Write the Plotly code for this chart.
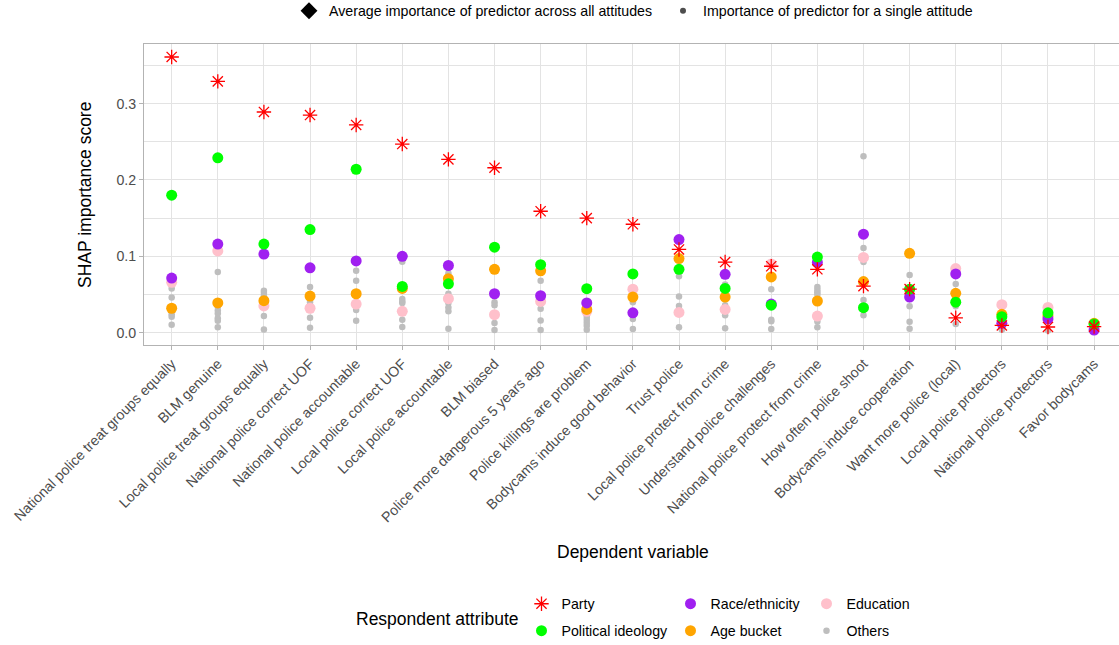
import plotly.graph_objects as go

# Dependent variables (attitudes), in plotting order
attitudes = [
    "National police treat groups equally", "BLM genuine",
    "Local police treat groups equally", "National police correct UOF",
    "National police accountable", "Local police correct UOF",
    "Local police accountable", "BLM biased",
    "Police more dangerous 5 years ago", "Police killings are problem",
    "Bodycams induce good behavior", "Trust police",
    "Local police protect from crime", "Understand police challenges",
    "National police protect from crime", "How often police shoot",
    "Bodycams induce cooperation", "Want more police (local)",
    "Local police protectors", "National police protectors", "Favor bodycams",
]

# SHAP importance of each respondent attribute, per attitude
party = [0.361, 0.329, 0.289, 0.285, 0.272, 0.247, 0.227, 0.216, 0.159, 0.150,
         0.142, 0.109, 0.0925, 0.087, 0.083, 0.061, 0.057, 0.0195, 0.0095, 0.0075, 0.008]
ideology = [0.180, 0.229, 0.116, 0.135, 0.214, 0.0606, 0.064, 0.112, 0.089, 0.0576,
            0.077, 0.083, 0.058, 0.036, 0.099, 0.0327, 0.057, 0.040, 0.021, 0.026, 0.0114]
race = [0.0716, 0.116, 0.103, 0.085, 0.094, 0.100, 0.088, 0.051, 0.0484, 0.039,
        0.026, 0.122, 0.0764, 0.0375, 0.092, 0.129, 0.0467, 0.077, 0.0123, 0.018, 0.0035]
age = [0.032, 0.039, 0.042, 0.048, 0.051, 0.058, 0.0707, 0.083, 0.081, 0.0305,
       0.0467, 0.097, 0.0467, 0.073, 0.0415, 0.067, 0.104, 0.0515, 0.024, 0.022, 0.0123]
education = [0.066, 0.107, 0.035, 0.032, 0.0375, 0.028, 0.0445, 0.0236, 0.041, 0.028,
             0.057, 0.0266, 0.0305, 0.090, 0.0218, 0.0986, 0.055, 0.084, 0.0367, 0.033, 0.006]
others = [
    [0.058, 0.046, 0.024, 0.021, 0.0105],
    [0.0794, 0.034, 0.029, 0.025, 0.019, 0.0157, 0.007],
    [0.055, 0.052, 0.048, 0.022, 0.0043],
    [0.060, 0.043, 0.040, 0.0196, 0.0065],
    [0.081, 0.068, 0.0297, 0.0157],
    [0.093, 0.044, 0.041, 0.039, 0.017, 0.0074],
    [0.078, 0.051, 0.039, 0.033, 0.028, 0.0052],
    [0.040, 0.036, 0.0127, 0.0035],
    [0.068, 0.0314, 0.016, 0.0035],
    [0.026, 0.021, 0.017, 0.013, 0.009, 0.004],
    [0.040, 0.018, 0.0048],
    [0.074, 0.0475, 0.035, 0.007],
    [0.063, 0.036, 0.0227, 0.0057],
    [0.057, 0.017, 0.015, 0.0048],
    [0.060, 0.056, 0.053, 0.050, 0.0148, 0.007],
    [0.231, 0.111, 0.0925, 0.0428, 0.023],
    [0.0755, 0.0345, 0.0144, 0.0052],
    [0.0637, 0.0345, 0.0113],
    [0.004],
    [0.003],
    [0.004],
]

y_ticks = [0.0, 0.1, 0.2, 0.3]
y_tick_labels = ["0.0", "0.1", "0.2", "0.3"]

FONT = "Liberation Sans, Arial, sans-serif"
SMALL = 14.2
TITLE = 17.5
W, H = 1119, 645
ML, MR, MT, MB = 144, 0, 44, 300
PW, PH = W - ML - MR, H - MT - MB


def px_to_paper(px, py):
    return (px - ML) / PW, (H - MB - py) / PH


others_x = [a for a, vals in zip(attitudes, others) for _ in vals]
others_y = [v for vals in others for v in vals]

fig = go.Figure()

# legend placement (pixel position of each legend symbol)
legend_pos = {
    "legend": (310, 11), "legend2": (684, 11),
    "legend3": (542.5, 604), "legend4": (542.5, 631),
    "legend5": (691.5, 604), "legend6": (691.5, 631),
    "legend7": (827.5, 604), "legend8": (827.5, 631),
}

# shape legend entries (no data drawn)
fig.add_trace(go.Scatter(x=[None], y=[None], mode="markers", name="Average importance of predictor across all attitudes",
                         marker=dict(symbol="diamond", size=13, color="black"), legend="legend", showlegend=True))
fig.add_trace(go.Scatter(x=[None], y=[None], mode="markers", name="Importance of predictor for a single attitude",
                         marker=dict(symbol="circle", size=6, color="#4D4D4D"), legend="legend2", showlegend=True))

# layers, bottom to top
fig.add_trace(go.Scatter(x=others_x, y=others_y, mode="markers", name="Others",
                         marker=dict(size=6.5, color="#BEBEBE"), legend="legend8"))
fig.add_trace(go.Scatter(x=attitudes, y=education, mode="markers", name="Education",
                         marker=dict(size=11, color="#FFC0CB"), legend="legend7"))
fig.add_trace(go.Scatter(x=attitudes, y=age, mode="markers", name="Age bucket",
                         marker=dict(size=11, color="#FFA500"), legend="legend6"))
fig.add_trace(go.Scatter(x=attitudes, y=race, mode="markers", name="Race/ethnicity",
                         marker=dict(size=11, color="#A020F0"), legend="legend5"))
fig.add_trace(go.Scatter(x=attitudes, y=ideology, mode="markers", name="Political ideology",
                         marker=dict(size=11, color="#00FF00"), legend="legend4"))
fig.add_trace(go.Scatter(x=attitudes, y=party, mode="markers", name="Party",
                         marker=dict(symbol="asterisk-open", size=12, color="#FF0000",
                                     line=dict(color="#FF0000", width=1.3)), legend="legend3"))

legend_layouts = {}
for key, (px, py) in legend_pos.items():
    legend_layouts[key] = dict(
        xref="container", yref="container",
        x=(px - 21) / W, y=1 - py / H,
        xanchor="left", yanchor="middle",
        orientation="h", bgcolor="rgba(0,0,0,0)",
        font=dict(family=FONT, size=SMALL, color="black"),
        itemclick=False, itemdoubleclick=False, visible=True,
    )

grid_col = "#E3E3E3"
border_col = "#B3B3B3"

ytitle_x, ytitle_y = px_to_paper(85, 195)
xtitle_x, xtitle_y = px_to_paper(633, 552)
ltitle_x, ltitle_y = px_to_paper(354, 619)

fig.update_layout(
    width=W, height=H,
    showlegend=True,
    margin=dict(l=ML, r=MR, t=MT, b=MB),
    paper_bgcolor="white", plot_bgcolor="white",
    font=dict(family=FONT, color="#4D4D4D"),
    **legend_layouts,
    xaxis=dict(
        type="category", categoryorder="array", categoryarray=attitudes,
        range=[-0.6, 20.54],
        showgrid=True, gridcolor=grid_col, gridwidth=1,
        showline=True, linecolor=border_col, linewidth=1, mirror=True,
        ticks="outside", ticklen=4, tickcolor=border_col,
        tickangle=-45, tickfont=dict(family=FONT, size=SMALL, color="#4D4D4D"),
        zeroline=False, fixedrange=True,
    ),
    yaxis=dict(
        range=[-0.0161, 0.378],
        tickvals=y_ticks, ticktext=y_tick_labels,
        showgrid=True, gridcolor=grid_col, gridwidth=1,
        minor=dict(tickvals=[0.05, 0.15, 0.25, 0.35], showgrid=True, gridcolor=grid_col, gridwidth=1, ticks=""),
        showline=True, linecolor=border_col, linewidth=1,
        ticks="outside", ticklen=4, tickcolor=border_col,
        tickfont=dict(family=FONT, size=SMALL, color="#4D4D4D"),
        zeroline=False, fixedrange=True,
    ),
    annotations=[
        dict(text="SHAP importance score", xref="paper", yref="paper", x=ytitle_x, y=ytitle_y,
             textangle=-90, showarrow=False, xanchor="center", yanchor="middle",
             font=dict(family=FONT, size=TITLE, color="black")),
        dict(text="Dependent variable", xref="paper", yref="paper", x=xtitle_x, y=xtitle_y,
             showarrow=False, xanchor="center", yanchor="middle",
             font=dict(family=FONT, size=TITLE, color="black")),
        dict(text="Respondent attribute", xref="paper", yref="paper", x=ltitle_x, y=ltitle_y,
             showarrow=False, xanchor="left", yanchor="middle",
             font=dict(family=FONT, size=TITLE, color="black")),
    ],
)

fig.write_html("out.html")
